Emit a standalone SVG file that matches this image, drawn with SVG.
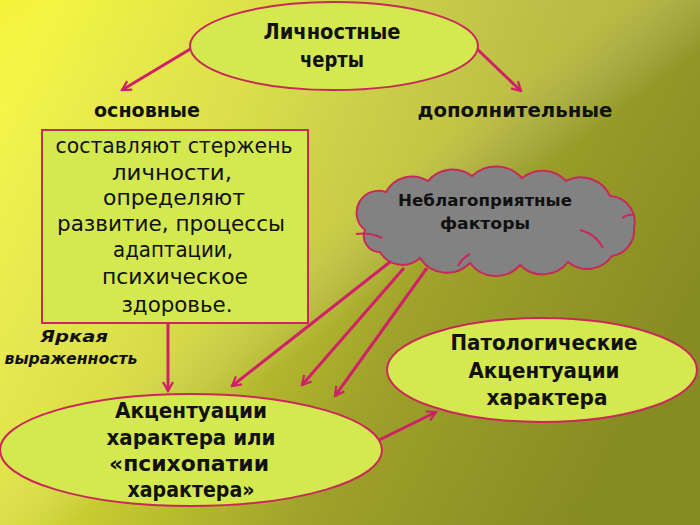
<svg xmlns="http://www.w3.org/2000/svg" width="700" height="525" viewBox="0 0 700 525">
<defs>
<linearGradient id="bg" x1="0" y1="0.2" x2="1" y2="0.6">
<stop offset="0" stop-color="#f4f43c"/>
<stop offset="0.3" stop-color="#d2d832"/>
<stop offset="0.65" stop-color="#9ea12a"/>
<stop offset="1" stop-color="#868b22"/>
</linearGradient>
<linearGradient id="band" x1="0" y1="0" x2="1" y2="1">
<stop offset="0" stop-color="#ffffff" stop-opacity="0"/>
<stop offset="0.45" stop-color="#f0f070" stop-opacity="0.35"/>
<stop offset="0.55" stop-color="#ffffff" stop-opacity="0"/>
</linearGradient>
<marker id="ah" viewBox="0 0 12 12" refX="10" refY="6" markerWidth="12" markerHeight="12" markerUnits="userSpaceOnUse" orient="auto">
<path d="M1,1 L10,6 L1,11" fill="none" stroke="#d0206a" stroke-width="2.2"/>
</marker>
<style>
.shape{fill:#d4e850;stroke:#c8285a;stroke-width:2}
.t{font-family:"DejaVu Sans","Liberation Sans",sans-serif;fill:#111;text-anchor:middle}
.b{font-weight:bold}
.conn{stroke:#d0206a;stroke-width:3;fill:none;marker-end:url(#ah)}
.inner{fill:none;stroke:#c8285a;stroke-width:2}
</style>
</defs>
<rect width="700" height="525" fill="url(#bg)"/>
<rect width="700" height="525" fill="url(#band)"/>

<g id="connectors">
<line class="conn" x1="192" y1="48" x2="122" y2="90"/>
<line class="conn" x1="476" y1="48" x2="521" y2="91"/>
<line class="conn" x1="168" y1="323" x2="168" y2="391"/>
<line class="conn" x1="390" y1="262" x2="232" y2="386"/>
<line class="conn" x1="404" y1="268" x2="302" y2="385"/>
<line class="conn" x1="427" y1="268" x2="335" y2="396"/>
<line class="conn" x1="373" y1="443" x2="436" y2="412"/>
</g>

<g id="node-lichnostnye">
<ellipse class="shape" cx="334" cy="46" rx="144" ry="44"/>
<text class="t b" x="332" y="39" font-size="21" textLength="137" lengthAdjust="spacingAndGlyphs">Личностные</text>
<text class="t b" x="332" y="67" font-size="21" textLength="64" lengthAdjust="spacingAndGlyphs">черты</text>
</g>

<g id="label-osnovnye">
<text class="t b" x="147" y="117" font-size="20" textLength="106" lengthAdjust="spacingAndGlyphs">основные</text>
</g>
<g id="label-dopolnitelnye">
<text class="t b" x="515" y="117" font-size="20" textLength="195" lengthAdjust="spacingAndGlyphs">дополнительные</text>
</g>

<g id="node-box">
<rect class="shape" x="42" y="130" width="266" height="193"/>
<g class="t" font-size="21">
<text x="174" y="153" textLength="237" lengthAdjust="spacingAndGlyphs">составляют стержень</text>
<text x="172" y="180" textLength="120" lengthAdjust="spacingAndGlyphs">личности,</text>
<text x="174" y="205" textLength="142" lengthAdjust="spacingAndGlyphs">определяют</text>
<text x="171" y="231" textLength="228" lengthAdjust="spacingAndGlyphs">развитие, процессы</text>
<text x="173" y="257" textLength="120" lengthAdjust="spacingAndGlyphs">адаптации,</text>
<text x="175" y="284" textLength="146" lengthAdjust="spacingAndGlyphs">психическое</text>
<text x="177" y="312" textLength="111" lengthAdjust="spacingAndGlyphs">здоровье.</text>
</g>
</g>

<g id="node-factors">
<path d="M365,230 A22,22 0 0 1 386,192 A30,30 0 0 1 428,181 A32,32 0 0 1 472,176 A35,35 0 0 1 522,178 A32,32 0 0 1 566,181 A32,32 0 0 1 610,196 A26,26 0 0 1 634,228 A26,26 0 0 1 612,256 A30,30 0 0 1 568,262 A32,32 0 0 1 520,265 A32,32 0 0 1 470,263 A32,32 0 0 1 420,258 A26,26 0 0 1 380,252 A16,16 0 0 1 365,230 Z" fill="#828282" stroke="#c8285a" stroke-width="2"/>
<path class="inner" d="M356,234 Q370,232 382,238"/>
<path class="inner" d="M580,230 Q596,234 603,248"/>
<path class="inner" d="M622,218 Q628,214 633,215"/>
<path class="inner" d="M458,266 Q462,258 470,254"/>
<text class="t b" x="485" y="206" font-size="16" textLength="174" lengthAdjust="spacingAndGlyphs">Неблагоприятные</text>
<text class="t b" x="485" y="229" font-size="16" textLength="90" lengthAdjust="spacingAndGlyphs">факторы</text>
</g>

<g id="label-yarkaya">
<text class="t b" x="74" y="342" font-size="15" font-style="italic" textLength="68" lengthAdjust="spacingAndGlyphs">Яркая</text>
<text class="t b" x="71" y="364" font-size="15" font-style="italic" textLength="133" lengthAdjust="spacingAndGlyphs">выраженность</text>
</g>

<g id="node-accent">
<ellipse class="shape" cx="191" cy="450" rx="191" ry="56"/>
<text class="t b" x="191" y="418" font-size="21" textLength="152" lengthAdjust="spacingAndGlyphs">Акцентуации</text>
<text class="t b" x="191" y="445" font-size="21" textLength="169" lengthAdjust="spacingAndGlyphs">характера или</text>
<text class="t b" x="189" y="471" font-size="21" textLength="160" lengthAdjust="spacingAndGlyphs">«психопатии</text>
<text class="t b" x="191" y="497" font-size="21" textLength="127" lengthAdjust="spacingAndGlyphs">характера»</text>
</g>

<g id="node-patolog">
<ellipse class="shape" cx="542" cy="370" rx="155" ry="52"/>
<text class="t b" x="544" y="350" font-size="21" textLength="187" lengthAdjust="spacingAndGlyphs">Патологические</text>
<text class="t b" x="544" y="378" font-size="21" textLength="151" lengthAdjust="spacingAndGlyphs">Акцентуации</text>
<text class="t b" x="547" y="405" font-size="21" textLength="121" lengthAdjust="spacingAndGlyphs">характера</text>
</g>
</svg>
